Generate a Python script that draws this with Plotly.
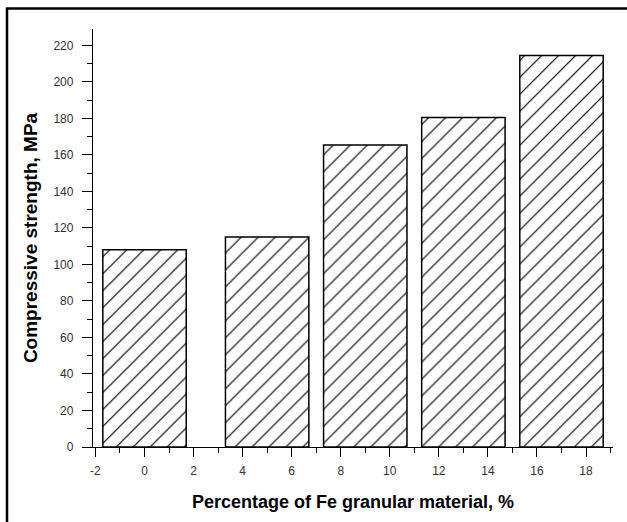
import plotly.graph_objects as go

x_pct = [0, 5, 9, 13, 17]
strength = [108, 115, 165.5, 180.5, 214.5]
x_ticks = [-2, 0, 2, 4, 6, 8, 10, 12, 14, 16, 18]
x_labels = ["-2", "0", "2", "4", "6", "8", "10", "12", "14", "16", "18"]
y_ticks = [0, 20, 40, 60, 80, 100, 120, 140, 160, 180, 200, 220]

fig = go.Figure()
fig.add_trace(go.Bar(
    x=x_pct, y=strength, width=3.4,
    marker=dict(color="white", line=dict(color="black", width=1.5),
                pattern=dict(shape="/", fgcolor="black", bgcolor="white", fgopacity=1,
                             size=12, solidity=0.1)),
))

tickfont = dict(family="Arial, Liberation Sans", size=12, color="#333333")
xtitlefont = dict(family="Arial, Liberation Sans", size=18, color="black", weight="bold")
ytitlefont = dict(family="Arial, Liberation Sans", size=19, color="black", weight="bold")

fig.update_layout(
    width=627, height=522,
    margin=dict(l=93, r=14, t=29, b=75),
    plot_bgcolor="white", paper_bgcolor="white",
    showlegend=False,
    xaxis=dict(range=[-2.1, 19.1], tickvals=x_ticks, ticktext=x_labels, ticks="outside", ticklen=9,
               tickwidth=1.3, tickcolor="black", showline=True, linecolor="black", linewidth=1.3,
               showgrid=False, zeroline=False, tickfont=tickfont, ticklabelstandoff=3,
               minor=dict(dtick=1, ticks="outside", ticklen=5, tickcolor="black", tickwidth=1.3, showgrid=False),
               title=dict(text="Percentage of Fe granular material, %", font=xtitlefont, standoff=18)),
    yaxis=dict(range=[0, 229], tickvals=y_ticks, ticks="outside", ticklen=10, tickwidth=1.3,
               tickcolor="black", showline=True, linecolor="black", linewidth=1.3, showgrid=False,
               zeroline=False, tickfont=tickfont, ticklabelstandoff=6,
               minor=dict(dtick=10, ticks="outside", ticklen=5, tickcolor="black", tickwidth=1.3, showgrid=False),
               title=dict(text="Compressive strength, MPa", font=ytitlefont, standoff=10)),
)

fig.add_shape(type="rect", xref="paper", yref="paper",
              x0=(7 - 93) / 520, x1=1.2, y0=-0.3, y1=(447 - 8.5) / 418,
              line=dict(color="black", width=2.5), layer="above")

fig.write_html("out.html", config={"displayModeBar": False},
               post_script="document.body.style.margin='0px';")
